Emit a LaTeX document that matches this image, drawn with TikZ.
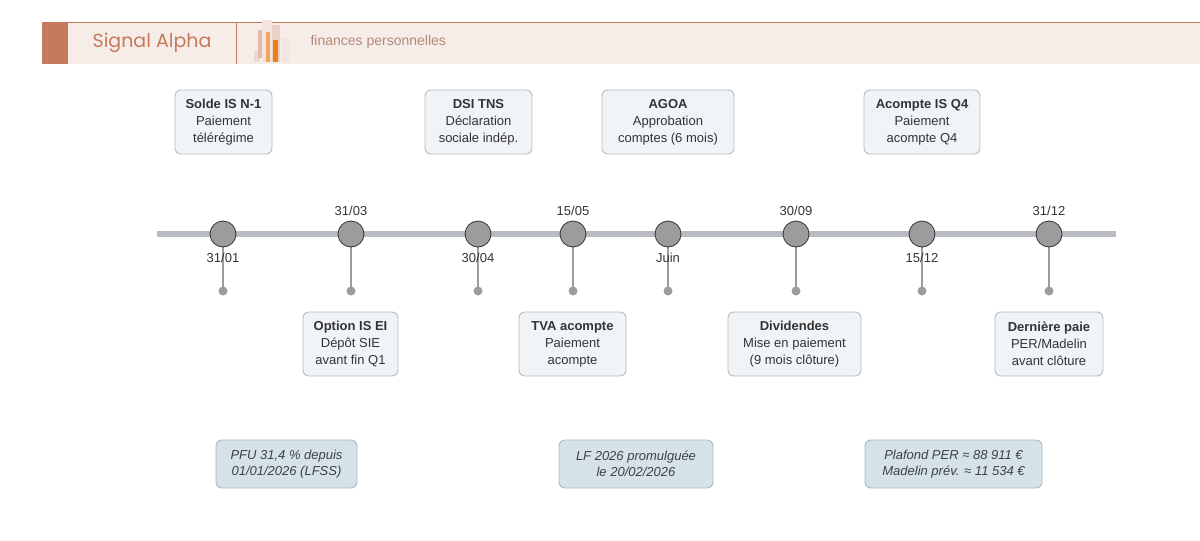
\documentclass[tikz,border=0pt]{standalone}
\usepackage{fontspec}
\setmainfont{Liberation Sans}
\newfontfamily\titlefont{Poppins}
\begin{document}
\begin{tikzpicture}[x=1pt,y=-1pt,
  teal/.style={fill=tl,draw=black!80,line width=0.8pt},
  grey/.style={fill=gr,draw=black!80,line width=0.8pt},
  ev/.style={draw=bd,fill=bx,rounded corners=6pt,line width=0.9pt,align=center,font=\fontsize{13}{17}\selectfont,text=black!80,inner sep=0pt},
  note/.style={draw=nb,fill=nf,rounded corners=6pt,line width=0.9pt,align=center,font=\fontsize{13}{16}\selectfont\itshape,text=black!75,inner sep=0pt},
  dt/.style={font=\fontsize{13}{15}\selectfont,text=black!80},
  stemT/.style={draw=tl,line width=1.2pt},
  stemG/.style={draw=gr,line width=1.2pt}]
\definecolor{tl}{HTML}{5B8A9C}
\definecolor{gr}{HTML}{9C9C9C}
\definecolor{bd}{HTML}{B8BCC2}
\definecolor{bx}{HTML}{F1F4F7}
\definecolor{nb}{HTML}{A9B7BF}
\definecolor{nf}{HTML}{D5E3E9}
\definecolor{hb}{HTML}{F7EDE8}
\definecolor{hc}{HTML}{C47A5B}
\useasboundingbox (0,0) rectangle (1200,541);
% header
\fill[hb] (42,22) rectangle (1200,64);
\draw[hc,line width=0.8pt] (42,22.5) -- (1200,22.5);
\fill[hc] (42,22) rectangle (68,64);
\draw[hc,line width=0.8pt] (236,22) -- (236,64);
\node[font=\titlefont\fontsize{19}{20}\selectfont,text=hc] (title) at (152,43) {Signal Alpha};
\fill[hc!30] (254,51) rectangle (260,62);
\fill[hc!50] (258,30) rectangle (264,58);
\fill[hc!20] (262,20) rectangle (272,62);
\fill[orange!60!brown!70] (266,32) rectangle (270,62);
\fill[hc!35] (272,25) rectangle (280,62);
\fill[orange!70!brown] (273,40) rectangle (278,62);
\fill[hc!20] (282,38) rectangle (289,62);
\fill[hc!15] (307,52) rectangle (1200,58);
\node[anchor=west,font=\fontsize{14}{15}\selectfont,text=hc!60!gray!90] (sub) at (307,42) {finances personnelles};
% timeline
\draw[bd,line width=6pt] (157,234) -- (1116,234);
\foreach \x/\n/\s in {223/a/T,351/b/G,478/c/T,573/d/G,668/e/T,796/f/G,922/g/T,1049/h/G}{
  \ifx\s T
    \coordinate (d\n) at (\x,177);
    \draw[stemT] (d\n) -- (\x,234);
    \fill[tl] (d\n) circle (4.5);
    \node[teal,circle,minimum size=26pt,inner sep=0pt] (c\n) at (\x,234) {};
  \else
    \coordinate (d\n) at (\x,291);
    \draw[stemG] (d\n) -- (\x,234);
    \fill[gr] (d\n) circle (4.5);
    \node[grey,circle,minimum size=26pt,inner sep=0pt] (c\n) at (\x,234) {};
  \fi
}
\node[dt] (la) at (223,258) {31/01};
\node[dt] (lb) at (351,211) {31/03};
\node[dt] (lc) at (478,258) {30/04};
\node[dt] (ld) at (573,211) {15/05};
\node[dt] (le) at (668,258) {Juin};
\node[dt] (lf) at (796,211) {30/09};
\node[dt] (lg) at (922,258) {15/12};
\node[dt] (lh) at (1049,211) {31/12};
% top boxes
\node[ev,minimum width=97pt,minimum height=64pt] (ba) at (223.5,122) {\textbf{Solde IS N-1}\\Paiement\\télérégime};
\node[ev,minimum width=107pt,minimum height=64pt] (bc) at (478.5,122) {\textbf{DSI TNS}\\Déclaration\\sociale indép.};
\node[ev,minimum width=132pt,minimum height=64pt] (be) at (668,122) {\textbf{AGOA}\\Approbation\\comptes (6 mois)};
\node[ev,minimum width=116pt,minimum height=64pt] (bg) at (922,122) {\textbf{Acompte IS Q4}\\Paiement\\acompte Q4};
% bottom boxes
\node[ev,minimum width=95pt,minimum height=64pt] (bb) at (350.5,344) {\textbf{Option IS EI}\\Dépôt SIE\\avant fin Q1};
\node[ev,minimum width=107pt,minimum height=64pt] (bd) at (572.5,344) {\textbf{TVA acompte}\\Paiement\\acompte};
\node[ev,minimum width=133pt,minimum height=64pt] (bf) at (794.5,344) {\textbf{Dividendes}\\Mise en paiement\\(9 mois clôture)};
\node[ev,minimum width=108pt,minimum height=64pt] (bh) at (1049,344) {\textbf{Dernière paie}\\PER/Madelin\\avant clôture};
% notes
\node[note,minimum width=141pt,minimum height=48pt] (n1) at (286.5,464) {PFU 31,4 \% depuis\\01/01/2026 (LFSS)};
\node[note,minimum width=154pt,minimum height=48pt] (n2) at (636,464) {LF 2026 promulguée\\le 20/02/2026};
\node[note,minimum width=177pt,minimum height=48pt] (n3) at (953.5,464) {Plafond PER ≈ 88 911 €\\Madelin prév. ≈ 11 534 €};
\end{tikzpicture}
\end{document}
